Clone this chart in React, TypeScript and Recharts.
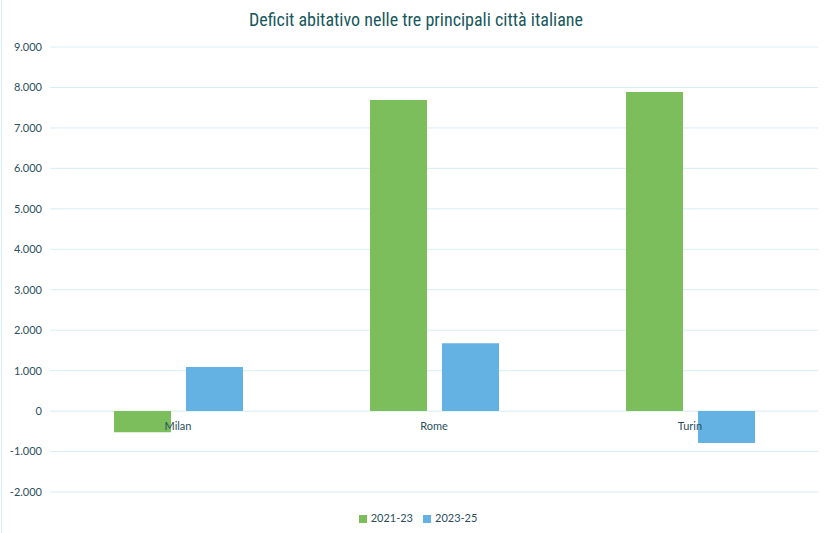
import { Bar, BarChart, CartesianGrid, Legend, XAxis, YAxis } from "recharts";

const cities = ["Milan", "Rome", "Turin"];
const deficit2123 = [-520, 7690, 7890];
const deficit2325 = [1090, 1680, -790];
const yTicks = [-2000, -1000, 0, 1000, 2000, 3000, 4000, 5000, 6000, 7000, 8000, 9000];

const data = cities.map((city, i) => ({ city, a: deficit2123[i], b: deficit2325[i] }));

const W = 832;
const H = 533;
const xAxisH = 2;
const margin = { top: 47, right: 14, left: 8, bottom: 19 };
const legendH = 20;
const yMin = yTicks[0];
const yMax = yTicks[yTicks.length - 1];
const plotH = H - margin.top - margin.bottom - legendH - xAxisH;
const zeroFromBottom = ((0 - yMin) / (yMax - yMin)) * plotH;

const textColor = "#2b4f5c";

const fmt = (v: number) => {
  const s = Math.abs(v).toString().replace(/\B(?=(\d{3})+(?!\d))/g, ".");
  return v < 0 ? "-" + s : s;
};

const renderCityTick = (props: any) => {
  const { x, y, payload } = props;
  return (
    <text
      x={x}
      y={y - zeroFromBottom}
      dy={11}
      textAnchor="middle"
      fontSize={11}
      fontFamily="Lato, sans-serif"
      fill={textColor}
    >
      {payload.value}
    </text>
  );
};

export default function App() {
  return (
    <div style={{ position: "absolute", left: 0, top: 0, width: W, height: H, background: "#fff" }}>
      <div style={{ position: "absolute", left: 1, top: 0, width: 1, height: H, background: "#d9eff3" }} />
      <div
        style={{
          position: "absolute",
          top: 9,
          width: W,
          textAlign: "center",
          fontFamily: "'Liberation Sans Narrow', 'Roboto Condensed', sans-serif",
          fontSize: 18,
          color: "#17585c",
        }}
      >
        Deficit abitativo nelle tre principali città italiane
      </div>
      <BarChart width={W} height={H} data={data} margin={margin} barCategoryGap="25%" barGap={15}>
        <CartesianGrid vertical={false} stroke="#d6eef3" />
        <XAxis
          dataKey="city"
          axisLine={false}
          tickLine={false}
          height={xAxisH}
          tick={renderCityTick}
          interval={0}
        />
        <YAxis
          domain={[yMin, yMax]}
          ticks={yTicks}
          width={42}
          axisLine={false}
          tickLine={false}
          tickFormatter={fmt}
          tick={{ fontSize: 11, fill: textColor, fontFamily: "Lato, sans-serif" }}
        />
        <Legend
          height={legendH}
          iconType="square"
          iconSize={8}
          wrapperStyle={{ bottom: 2, paddingLeft: 10, fontSize: 11, fontFamily: "Lato, sans-serif", color: textColor }}
          formatter={(v: string) => <span style={{ color: textColor }}>{v}</span>}
        />
        <Bar dataKey="a" name="2021-23" fill="#7dbe5c" isAnimationActive={false} />
        <Bar dataKey="b" name="2023-25" fill="#64b2e4" isAnimationActive={false} />
      </BarChart>
    </div>
  );
}
